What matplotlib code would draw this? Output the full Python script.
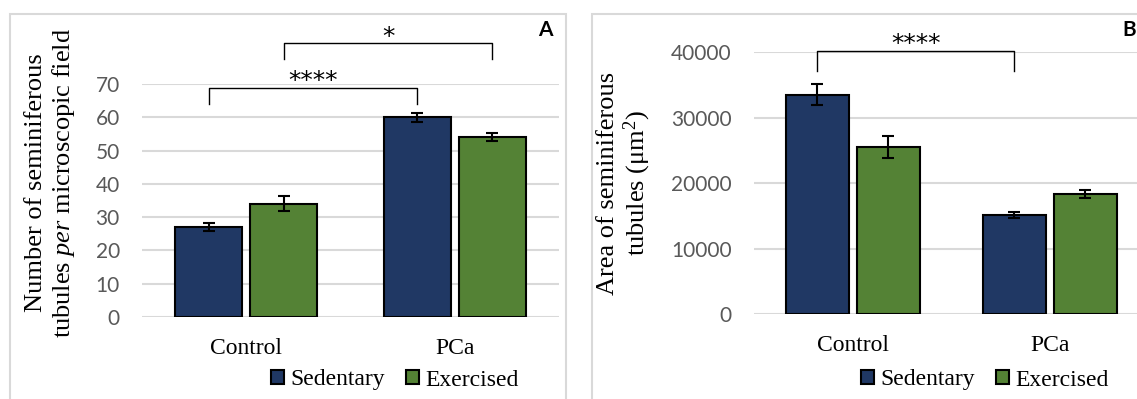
import numpy as np
import matplotlib
matplotlib.use("Agg")
import matplotlib.pyplot as plt
from matplotlib.patches import Rectangle

# ----- data -----
categories = ["Control", "PCa"]
series = ["Sedentary", "Exercised"]

count_sed = [27.0, 60.0]       # tubules per microscopic field
count_sed_err = [1.2, 1.3]
count_ex = [34.0, 54.1]
count_ex_err = [2.3, 1.2]

area_sed = [33500, 15100]      # area (um^2)
area_sed_err = [1600, 500]
area_ex = [25500, 18350]
area_ex_err = [1650, 650]

# ----- style -----
plt.rcParams["mathtext.fontset"] = "custom"
plt.rcParams["mathtext.rm"] = "Liberation Serif"
plt.rcParams["mathtext.it"] = "Liberation Serif:italic"

SERIF = "Liberation Serif"
SANS = "Lato"
NAVY = "#203864"
GREEN = "#548235"
GRID = "#d9d9d9"
TICK = "#595959"

W = 1137
H = 399
fig = plt.figure(figsize=(W / 100, H / 100), dpi=100)


def px(x, y):
    return x / W, 1 - y / H


# panel frames
for x0, x1 in [(10, 566), (592, 1300)]:
    fig.patches.append(Rectangle((x0 / W, -0.1), (x1 - x0) / W, 1 - 14 / H + 0.1,
                                 transform=fig.transFigure, fill=False,
                                 edgecolor=GRID, lw=1.5, zorder=0))


def draw_panel(ax, sed, sed_err, ex, ex_err, xlim, ylim, yticks):
    x = np.arange(len(categories))
    width = 0.32
    off = 0.18
    ekw = dict(elinewidth=1.5, capthick=1.5, ecolor="black")
    ax.bar(x - off, sed, width, yerr=sed_err, capsize=4, color=NAVY,
           edgecolor="black", lw=1.5, error_kw=ekw, label=series[0])
    ax.bar(x + off, ex, width, yerr=ex_err, capsize=4, color=GREEN,
           edgecolor="black", lw=1.5, error_kw=ekw, label=series[1])
    ax.set_xlim(*xlim)
    ax.set_ylim(*ylim)
    ax.set_yticks(yticks)
    ax.set_xticks(x)
    ax.set_xticklabels(categories, fontfamily=SERIF, fontsize=17, color="black")
    for lab in ax.get_yticklabels():
        lab.set_fontfamily(SANS)
        lab.set_fontsize(15)
        lab.set_color(TICK)
    ax.tick_params(axis="both", length=0)
    ax.tick_params(axis="x", pad=15)
    ax.tick_params(axis="y", pad=16)
    ax.yaxis.grid(True, color=GRID, lw=1.5)
    ax.set_axisbelow(True)
    for s in ax.spines.values():
        s.set_visible(False)
    ax.patch.set_alpha(0)


def bracket(ax, x0, x1, top, bottom, txt, ty):
    ax.plot([x0, x0, x1, x1], [bottom, top, top, bottom], color="black",
            lw=1.0, clip_on=False)
    ax.text((x0 + x1) / 2, ty, txt, ha="center", va="baseline",
            fontfamily="DejaVu Sans", fontsize=18, clip_on=False)


# ----- panel A -----
axA = fig.add_axes([142 / W, 1 - 317 / H, (559 - 142) / W, (317 - 84) / H])
draw_panel(axA, count_sed, count_sed_err, count_ex, count_ex_err,
           (-0.5, 1.5), (0, 70), np.arange(0, 71, 10))
bracket(axA, -0.18, 0.82, 68.7, 64.0, "****", 68.8)
bracket(axA, 0.18, 1.18, 82.3, 77.5, "*", 82.0)
fig.text(*px(51, 183), "Number of seminiferous\ntubules $\\mathit{per}$ microscopic field",
         rotation=90, ha="center", va="center", multialignment="center",
         fontfamily=SERIF, fontsize=19, linespacing=1.15)
fig.text(*px(545, 30), "A", ha="center", va="center", fontfamily=SANS,
         fontweight="bold", fontsize=15)

# ----- panel B -----
axB = fig.add_axes([754 / W, 1 - 314 / H, (W - 754) / W, (314 - 52.3) / H])
draw_panel(axB, area_sed, area_sed_err, area_ex, area_ex_err,
           (-0.5, 1.442), (0, 40000), np.arange(0, 40001, 10000))
bracket(axB, -0.18, 0.82, 40200, 37100, "****", 40250)
fig.text(*px(625, 183), "Area of seminiferous\ntubules (μm$^2$)",
         rotation=90, ha="center", va="center", multialignment="center",
         fontfamily=SERIF, fontsize=19, linespacing=1.15)
fig.text(*px(1136, 30), "B", ha="right", va="center", fontfamily=SANS,
         fontweight="bold", fontsize=15)

# ----- legends -----
for ax, cx in [(axA, 395), (axB, 985)]:
    h, l = ax.get_legend_handles_labels()
    fig.legend(h, l, loc="center", bbox_to_anchor=px(cx, 380), ncol=2,
               frameon=False, prop={"family": SERIF, "size": 17},
               handlelength=0.55, handleheight=0.55, handletextpad=0.25,
               columnspacing=0.9, borderaxespad=0)

fig.savefig("out.png", dpi=100)
